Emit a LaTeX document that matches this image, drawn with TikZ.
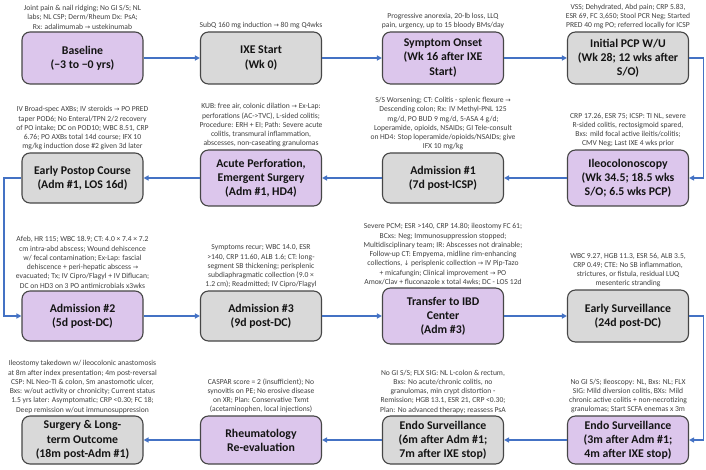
\documentclass[tikz,border=0pt]{standalone}
\usepackage{fontspec}
\setmainfont{Carlito}
\newfontfamily\dvsfont{DejaVu Sans}[Scale=0.85]
\newcommand\myarr{{\dvsfont →}}
\newcommand\mydown{{\dvsfont ↓}}
\usetikzlibrary{arrows.meta}
\definecolor{boxpurple}{RGB}{220,198,236}
\definecolor{boxgray}{RGB}{217,217,217}
\definecolor{boxline}{RGB}{70,70,70}
\definecolor{conncol}{RGB}{68,114,196}
\definecolor{anntext}{RGB}{64,64,64}
\definecolor{titletext}{RGB}{20,20,20}
\tikzset{
  box/.style={draw=boxline, line width=1.1pt, rounded corners=8pt, minimum width=121pt, align=center, inner sep=2pt, font=\fontsize{11.8}{14.2}\selectfont\bfseries, text=titletext},
  pbox/.style={box, fill=boxpurple},
  gbox/.style={box, fill=boxgray},
  ann/.style={anchor=south, align=center, inner sep=0pt, font=\fontsize{7.6}{9.25}\selectfont, text=anntext},
  conn/.style={draw=conncol, line width=1.6pt, -{Triangle[length=5pt,width=5pt]}},
}
\begin{document}
\begin{tikzpicture}[x=1pt,y=-1pt]
\fill[white] (0,0) rectangle (706,470);
\useasboundingbox (0,0) rectangle (706,470);
% row 1
\node[pbox, minimum height=52pt] (b1) at (82.5,58) {Baseline\\(−3 to −0 yrs)};
\node[gbox, minimum height=52pt] (b2) at (261,58) {IXE Start\\(Wk 0)};
\node[pbox, minimum height=52pt] (b3) at (443,58) {Symptom Onset\\(Wk 16 after IXE\\Start)};
\node[gbox, minimum height=52pt] (b4) at (628,58) {Initial PCP W/U\\(Wk 28; 12 wks after\\S/O)};
% row 2
\node[gbox, minimum height=50pt] (b5) at (82.5,178) {Early Postop Course\\(Adm \#1, LOS 16d)};
\node[pbox, minimum height=56pt] (b6) at (261,178) {Acute Perforation,\\Emergent Surgery\\(Adm \#1, HD4)};
\node[gbox, minimum height=50pt] (b7) at (443,178) {Admission \#1\\(7d post-ICSP)};
\node[pbox, minimum height=56pt] (b8) at (628,178) {Ileocolonoscopy\\(Wk 34.5; 18.5 wks\\S/O; 6.5 wks PCP)};
% row 3
\node[pbox, minimum height=50pt] (b9) at (82.5,316) {Admission \#2\\(5d post-DC)};
\node[gbox, minimum height=50pt] (b10) at (261,316) {Admission \#3\\(9d post-DC)};
\node[pbox, minimum height=56pt] (b11) at (443,316) {Transfer to IBD\\Center\\(Adm \#3)};
\node[gbox, minimum height=52pt] (b12) at (628,316) {Early Surveillance\\(24d post-DC)};
% row 4
\node[gbox, minimum height=48pt] (b13) at (82.5,440) {Surgery \& Long-\\term Outcome\\(18m post-Adm \#1)};
\node[pbox, minimum height=48pt] (b14) at (261,440) {Rheumatology\\Re-evaluation};
\node[gbox, minimum height=48pt] (b15) at (443,440) {Endo Surveillance\\(6m after Adm \#1;\\7m after IXE stop)};
\node[pbox, minimum height=48pt] (b16) at (628,440) {Endo Surveillance\\(3m after Adm \#1;\\4m after IXE stop)};
% annotations
\node[ann] (a1) at ([yshift=2pt]b1.north) {Joint pain \& nail ridging; No GI S/S; NL\\labs; NL CSP; Derm/Rheum Dx: PsA;\\Rx: adalimumab \myarr{} ustekinumab};
\node[ann] (a2) at ([yshift=2pt]b2.north) {SubQ 160 mg induction \myarr{} 80 mg Q4wks};
\node[ann] (a3) at ([yshift=2pt]b3.north) {Progressive anorexia, 20-lb loss, LLQ\\pain, urgency, up to 15 bloody BMs/day};
\node[ann] (a4) at ([yshift=2pt]b4.north) {VSS; Dehydrated, Abd pain; CRP 5.83,\\ESR 69, FC 3,650; Stool PCR Neg; Started\\PRED 40 mg PO; referred locally for ICSP};
\node[ann] (a5) at ([yshift=2pt]b5.north) {IV Broad-spec AXBs; IV steroids \myarr{} PO PRED\\taper POD6; No Enteral/TPN 2/2 recovery\\of PO intake; DC on POD10; WBC 8.51, CRP\\6.76; PO AXBs total 14d course; IFX 10\\mg/kg induction dose \#2 given 3d later};
\node[ann] (a6) at ([yshift=2pt]b6.north) {KUB: free air, colonic dilation \myarr{} Ex-Lap:\\perforations (AC->TVC), L-sided colitis;\\Procedure: ERH + EI; Path: Severe acute\\colitis, transmural inflammation,\\abscesses, non-caseating granulomas};
\node[ann] (a7) at ([yshift=2pt]b7.north) {S/S Worsening; CT: Colitis - splenic flexure \myarr\\Descending colon; Rx: IV Methyl-PNL 125\\mg/d, PO BUD 9 mg/d, 5-ASA 4 g/d;\\Loperamide, opioids, NSAIDs; GI Tele-consult\\on HD4: Stop loperamide/opioids/NSAIDs; give\\IFX 10 mg/kg};
\node[ann] (a8) at ([yshift=2pt]b8.north) {CRP 17.26, ESR 75; ICSP: TI NL, severe\\R-sided colitis, rectosigmoid spared,\\Bxs: mild focal active ileitis/colitis;\\CMV Neg; Last IXE 4 wks prior};
\node[ann] (a9) at ([yshift=2pt]b9.north) {Afeb, HR 115; WBC 18.9; CT: 4.0 × 7.4 × 7.2\\cm intra-abd abscess; Wound dehiscence\\w/ fecal contamination; Ex-Lap: fascial\\dehiscence + peri-hepatic abscess \myarr\\evacuated; Tx; IV Cipro/Flagyl + IV Diflucan;\\DC on HD3 on 3 PO antimicrobials x3wks};
\node[ann] (a10) at ([yshift=2pt]b10.north) {Symptoms recur; WBC 14.0, ESR\\>140, CRP 11.60, ALB 1.6; CT: long-\\segment SB thickening; perisplenic\\subdiaphragmatic collection (9.0 ×\\1.2 cm); Readmitted; IV Cipro/Flagyl};
\node[ann] (a11) at ([yshift=2pt]b11.north) {Severe PCM; ESR >140, CRP 14.80; ileostomy FC 61;\\BCxs: Neg; Immunosuppression stopped;\\Multidisciplinary team; IR: Abscesses not drainable;\\Follow-up CT: Empyema, midline rim-enhancing\\collections, \mydown{} perisplenic collection \myarr{} IV Pip-Tazo\\+ micafungin; Clinical improvement \myarr{} PO\\Amox/Clav + fluconazole x total 4wks; DC - LOS 12d};
\node[ann] (a12) at ([yshift=2pt]b12.north) {WBC 9.27, HGB 11.3, ESR 56, ALB 3.5,\\CRP 0.49; CTE: No SB inflammation,\\strictures, or fistula, residual LUQ\\mesenteric stranding};
\node[ann] (a13) at ([yshift=2pt]b13.north) {Ileostomy takedown w/ ileocolonic anastomosis\\at 8m after index presentation; 4m post-reversal\\CSP: NL Neo-TI \& colon, Sm anastomotic ulcer,\\Bxs: w/out activity or chronicity; Current status\\1.5 yrs later: Asymptomatic; CRP <0.30; FC 18;\\Deep remission w/out immunosuppression};
\node[ann] (a14) at ([yshift=2pt]b14.north) {CASPAR score = 2 (insufficient); No\\synovitis on PE; No erosive disease\\on XR; Plan: Conservative Txmt\\(acetaminophen, local injections)};
\node[ann] (a15) at ([yshift=2pt]b15.north) {No GI S/S; FLX SIG: NL L-colon \& rectum,\\Bxs: No acute/chronic colitis, no\\granulomas, min crypt distortion -\\Remission; HGB 13.1, ESR 21, CRP <0.30;\\Plan: No advanced therapy; reassess PsA};
\node[ann] (a16) at ([yshift=2pt]b16.north) {No GI S/S; Ileoscopy: NL, Bxs: NL; FLX\\SIG: Mild diversion colitis, BXs: Mild\\chronic active colitis + non-necrotizing\\granulomas; Start SCFA enemas x 3m};
% connectors
\coordinate (xr) at (703.5,0);
\coordinate (xl) at (4,0);
\draw[conn] (b1) -- (b2);
\draw[conn] (b2) -- (b3);
\draw[conn] (b3) -- (b4);
\draw[conn] (b4.east) -- (b4.east -| xr) |- (b8.east);
\draw[conn] (b8) -- (b7);
\draw[conn] (b7) -- (b6);
\draw[conn] (b6) -- (b5);
\draw[conn] (b5.west) -- (b5.west -| xl) |- (b9.west);
\draw[conn] (b9) -- (b10);
\draw[conn] (b10) -- (b11);
\draw[conn] (b11) -- (b12);
\draw[conn] (b12.east) -- (b12.east -| xr) |- (b16.east);
\draw[conn] (b16) -- (b15);
\draw[conn] (b15) -- (b14);
\draw[conn] (b14) -- (b13);
\end{tikzpicture}
\end{document}
